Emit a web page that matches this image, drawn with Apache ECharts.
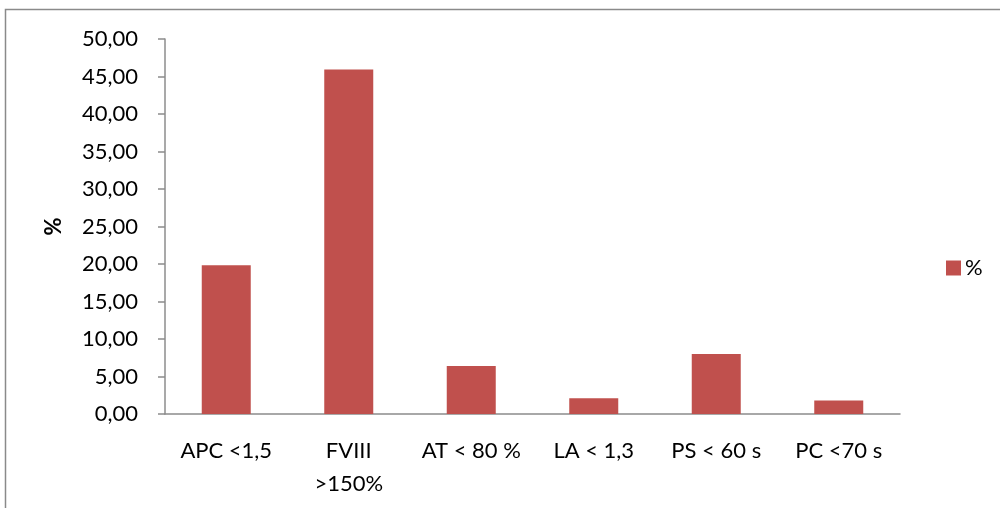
<!DOCTYPE html>
<html><head><meta charset="utf-8">
<script src="https://cdn.jsdelivr.net/npm/echarts@6/dist/echarts.min.js"></script>
<style>html,body{margin:0;padding:0;background:#fff}#c{width:1000px;height:508px}</style>
</head><body><div id="c"></div>
<script>
const categories = ['APC <1,5', 'FVIII\n>150%', 'AT < 80 %', 'LA < 1,3', 'PS < 60 s', 'PC <70 s'];
const values = [19.85, 45.95, 6.4, 2.1, 8.0, 1.8];
const seriesName = '%';
const yTicks = {min: 0, max: 50, interval: 5};

const chart = echarts.init(document.getElementById('c'));
const font = 'Lato, "Open Sans", sans-serif';
chart.setOption({
  animation: false,
  graphic: [{type: 'rect', shape: {x: 5.5, y: 9.5, width: 1100, height: 600}, style: {fill: 'none', stroke: '#8a8a8a', lineWidth: 1.5}, silent: true}],
  grid: {left: 165, right: 100, top: 39, bottom: 94, containLabel: false},
  legend: {
    data: [seriesName], left: 941, top: 252, orient: 'vertical', itemWidth: 15, itemHeight: 15, itemGap: 6,
    icon: 'rect', textStyle: {fontFamily: font, fontSize: 22, color: '#000', padding: [0,0,0,-1]}
  },
  xAxis: {
    type: 'category', data: categories,
    axisLine: {lineStyle: {color: '#8c8c8c', width: 1.5}},
    axisTick: {show: false},
    axisLabel: {fontFamily: font, fontSize: 22, color: '#000', margin: 20, lineHeight: 33, interval: 0}
  },
  yAxis: {
    type: 'value', min: yTicks.min, max: yTicks.max, interval: yTicks.interval,
    name: '%', nameLocation: 'middle', nameGap: 100, nameRotate: 90,
    nameTextStyle: {fontFamily: font, fontSize: 22, fontWeight: 'bold', color: '#000'},
    axisLine: {show: true, lineStyle: {color: '#8c8c8c', width: 1.5}},
    axisTick: {show: true, inside: false, length: 7, lineStyle: {color: '#8c8c8c', width: 1.5}},
    splitLine: {show: false},
    axisLabel: {fontFamily: font, fontSize: 22, color: '#000', margin: 27,
      formatter: v => v.toFixed(2).replace('.', ',')}
  },
  series: [{
    name: seriesName, type: 'bar', data: values, barWidth: '40%',
    itemStyle: {color: '#c0504d'}
  }]
});
</script></body></html>
